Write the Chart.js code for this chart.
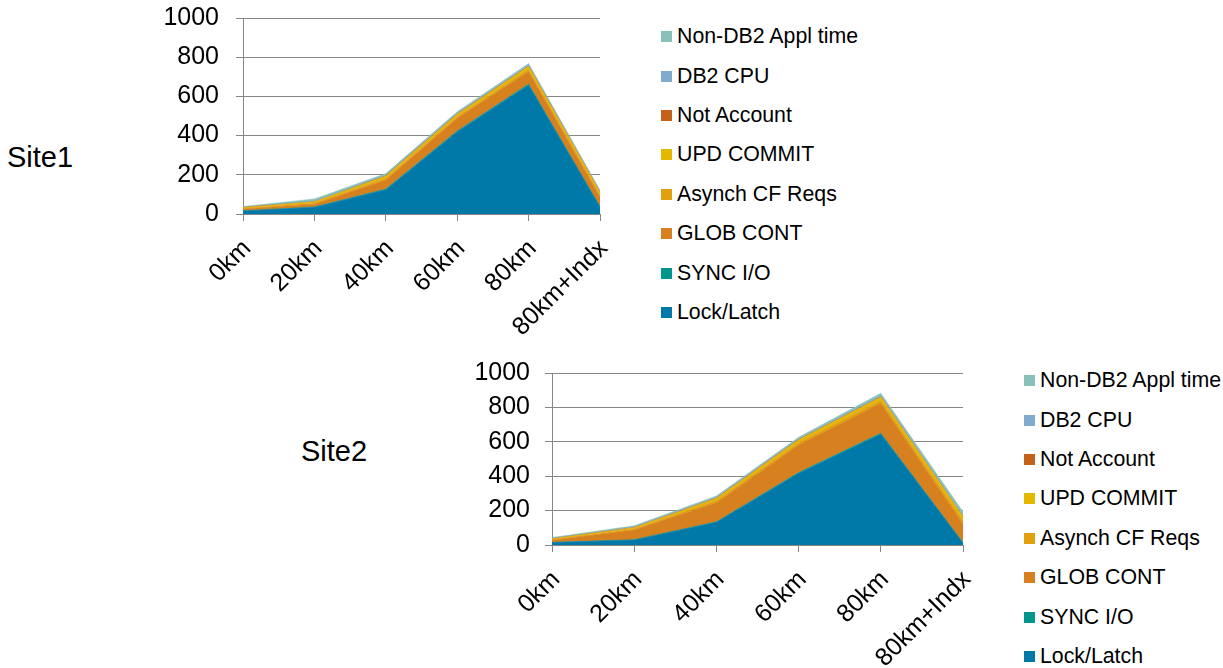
<!DOCTYPE html>
<html>
<head>
<meta charset="utf-8">
<title>Site1 / Site2 wait time by distance</title>
<script src="https://cdn.jsdelivr.net/npm/chart.js@4.4.1/dist/chart.umd.min.js"></script>
<style>
  html, body { margin: 0; padding: 0; background: #fff; }
  body { width: 1223px; height: 668px; overflow: hidden; position: relative;
         font-family: "Liberation Sans", Arial, sans-serif; color: #000; }
  canvas { position: absolute; }
  .site { position: absolute; font-size: 29px; line-height: 29px; white-space: nowrap; }
  .legend { position: absolute; }
  .legend .row { display: flex; align-items: center; height: 39.4px; font-size: 21.3px; white-space: nowrap; }
  .legend .sw { width: 11px; height: 11px; margin-right: 5px; flex: none; }
</style>
</head>
<body>
<div class="site" id="site1Label" style="left:7px; top:143px;">Site1</div>
<div class="site" id="site2Label" style="left:301px; top:437px;">Site2</div>
<canvas id="site1Chart"></canvas>
<canvas id="site2Chart"></canvas>
<div class="legend" id="site1Legend"></div>
<div class="legend" id="site2Legend"></div>

<script>
// Categories and tick labels
const categories = ['0km', '20km', '40km', '60km', '80km', '80km+Indx'];
const yTicks = [0, 200, 400, 600, 800, 1000];

// Series, bottom of the stack first
const seriesNames = ['Lock/Latch', 'SYNC I/O', 'GLOB CONT', 'Asynch CF Reqs',
                     'UPD COMMIT', 'Not Account', 'DB2 CPU', 'Non-DB2 Appl time'];
const seriesColors = ['#0079A9', '#00968C', '#D6801F', '#E3A00E',
                      '#E3B900', '#C4621A', '#82AACF', '#88C0BA'];

// Site1 values
const site1LockLatch   = [15, 34, 124, 420, 658, 36];
const site1SyncIO      = [2, 2, 3, 4, 5, 2];
const site1GlobCont    = [8, 14, 46, 64, 64, 48];
const site1AsynchCF    = [4, 6, 10, 10, 12, 12];
const site1UpdCommit   = [4, 6, 10, 10, 14, 12];
const site1NotAccount  = [1, 1, 2, 2, 2, 1];
const site1Db2Cpu      = [1, 2, 3, 4, 5, 2];
const site1NonDb2Appl  = [3, 12, 8, 8, 8, 8];

// Site2 values
const site2LockLatch   = [14, 29, 132, 417, 645, 12];
const site2SyncIO      = [2, 2, 3, 4, 5, 2];
const site2GlobCont    = [12, 56, 111, 160, 174, 108];
const site2AsynchCF    = [4, 7, 12, 14, 17, 20];
const site2UpdCommit   = [4, 7, 13, 15, 18, 22];
const site2NotAccount  = [1, 1, 2, 3, 3, 2];
const site2Db2Cpu      = [2, 3, 4, 5, 6, 5];
const site2NonDb2Appl  = [4, 7, 8, 8, 14, 22];

const site1Series = [site1LockLatch, site1SyncIO, site1GlobCont, site1AsynchCF,
                     site1UpdCommit, site1NotAccount, site1Db2Cpu, site1NonDb2Appl];
const site2Series = [site2LockLatch, site2SyncIO, site2GlobCont, site2AsynchCF,
                     site2UpdCommit, site2NotAccount, site2Db2Cpu, site2NonDb2Appl];

Chart.defaults.font.family = '"Liberation Sans", Arial, sans-serif';
Chart.defaults.color = '#000';

const AXIS_GRAY = '#868686';
const TICK_LEN = 7;
const LABEL_SIZE = 25;
const Y_LABEL_LH = 30;   // px line height of the value labels
const X_AXIS_H = 120;    // reserved height for the rotated category labels
const RIGHT_PAD = 40;
const BOTTOM_PAD = 12;

// Places a stacked area chart so that its plot area spans the given box.
function stackedArea(canvasId, series, plot, yLabelPad) {
  const canvas = document.getElementById(canvasId);
  const topInset = Y_LABEL_LH / 2 + yLabelPad;
  const w = plot.right + RIGHT_PAD;
  const h = (plot.bottom - plot.top) + topInset + X_AXIS_H + BOTTOM_PAD;
  canvas.style.left = '0px';
  canvas.style.top = (plot.top - topInset) + 'px';
  canvas.style.width = w + 'px';
  canvas.style.height = h + 'px';
  canvas.width = w;
  canvas.height = h;

  const datasets = series.map((values, i) => ({
    label: seriesNames[i],
    data: values,
    backgroundColor: seriesColors[i],
    borderColor: seriesColors[i],
    borderWidth: 0.5,
    pointRadius: 0,
    tension: 0,
    fill: i === 0 ? 'origin' : '-1'
  }));

  return new Chart(canvas, {
    type: 'line',
    data: { labels: categories, datasets },
    options: {
      responsive: false,
      animation: false,
      devicePixelRatio: 1,
      layout: { padding: { left: 0, right: RIGHT_PAD, top: 0, bottom: BOTTOM_PAD } },
      plugins: { legend: { display: false }, tooltip: { enabled: false } },
      scales: {
        x: {
          offset: false,
          grid: { display: true, drawOnChartArea: false, drawTicks: true,
                  tickLength: TICK_LEN, color: AXIS_GRAY, lineWidth: 1 },
          border: { display: true, color: AXIS_GRAY, width: 1 },
          ticks: { minRotation: 45, maxRotation: 45, autoSkip: false, padding: 13,
                   labelOffset: 4, font: { size: LABEL_SIZE }, color: '#000' },
          afterFit: s => { s.height = X_AXIS_H; }
        },
        y: {
          stacked: true,
          min: 0,
          max: 1000,
          grid: { display: true, drawTicks: true, tickLength: TICK_LEN,
                  color: AXIS_GRAY, lineWidth: 1 },
          border: { display: true, color: AXIS_GRAY, width: 1 },
          ticks: { padding: yLabelPad, color: '#000',
                   font: { size: LABEL_SIZE, lineHeight: Y_LABEL_LH / LABEL_SIZE },
                   callback: v => String(v) },
          afterBuildTicks: s => { s.ticks = yTicks.map(v => ({ value: v })); },
          afterFit: s => { s.width = plot.left; }
        }
      }
    }
  });
}

function buildLegend(id, left, top) {
  const el = document.getElementById(id);
  el.style.left = left + 'px';
  el.style.top = top + 'px';
  for (let i = seriesNames.length - 1; i >= 0; i--) {
    const row = document.createElement('div');
    row.className = 'row';
    const sw = document.createElement('span');
    sw.className = 'sw';
    sw.style.background = seriesColors[i];
    const txt = document.createElement('span');
    txt.textContent = seriesNames[i];
    row.appendChild(sw);
    row.appendChild(txt);
    el.appendChild(row);
  }
}

stackedArea('site1Chart', site1Series, { left: 243, right: 600, top: 18, bottom: 214 }, 17);
stackedArea('site2Chart', site2Series, { left: 552, right: 963, top: 373, bottom: 545 }, 15);
buildLegend('site1Legend', 661, 17);
buildLegend('site2Legend', 1024, 361);
</script>
</body>
</html>
